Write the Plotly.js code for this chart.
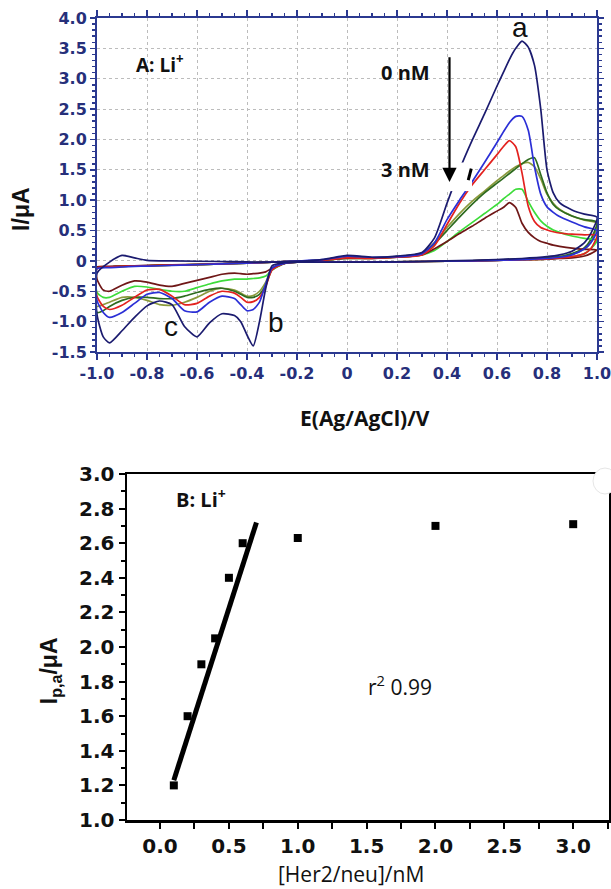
<!DOCTYPE html>
<html><head><meta charset="utf-8">
<script src="https://cdn.plot.ly/plotly-3.0.1.min.js"></script>
<style>html,body{margin:0;padding:0;background:#fff}#chart{width:611px;height:889px}</style>
</head><body><div id="chart"></div>
<script>
// ---------- Panel A: cyclic voltammograms ----------
// forward sweep potentials (V) and reverse sweep potentials (V)
const fwdE = [-1.0,-0.95,-0.9,-0.85,-0.8,-0.7,-0.5,-0.3,-0.1,0.0,0.1,0.2,0.3,0.35,0.4,0.45,0.5,0.55,0.6,0.625,0.65,0.675,0.7,0.725,0.75,0.775,0.8,0.825,0.85,0.9,0.95,1.0];
const revE = [0.975,0.95,0.9,0.85,0.8,0.7,0.5,0.3,0.1,-0.1,-0.2,-0.25,-0.3,-0.325,-0.35,-0.375,-0.4,-0.425,-0.45,-0.5,-0.55,-0.6,-0.65,-0.7,-0.75,-0.8,-0.85,-0.9,-0.95,-0.975,-1.0];

// currents (uA) per curve: forward and reverse branches
const navyFwd = [-0.2,-0.02,0.09,0.05,0.01,0.0,-0.01,-0.02,0.02,0.09,0.06,0.08,0.14,0.38,0.95,1.5,1.98,2.42,2.88,3.1,3.32,3.5,3.62,3.52,3.22,2.5,1.5,1.12,0.96,0.84,0.77,0.72];
const navyRev = [0.45,0.3,0.16,0.1,0.07,0.04,0.01,-0.01,-0.02,-0.02,-0.02,-0.03,-0.08,-0.45,-1.0,-1.4,-1.22,-1.0,-0.9,-0.87,-1.02,-1.25,-1.08,-0.72,-0.66,-0.74,-0.93,-1.15,-1.35,-1.25,-0.88];
const blueFwd = [-0.13,-0.11,-0.1,-0.09,-0.085,-0.075,-0.05,-0.02,0.02,0.08,0.06,0.07,0.12,0.3,0.68,1.0,1.3,1.62,1.95,2.12,2.28,2.38,2.38,2.15,1.55,1.1,0.89,0.8,0.73,0.64,0.56,0.5];
const blueRev = [0.3,0.2,0.1,0.06,0.04,0.02,0.0,-0.01,-0.02,-0.02,-0.02,-0.04,-0.12,-0.38,-0.68,-0.8,-0.82,-0.72,-0.62,-0.58,-0.68,-0.84,-0.82,-0.62,-0.52,-0.55,-0.7,-0.85,-0.93,-0.85,-0.65];
const redFwd = [-0.12,-0.1,-0.09,-0.085,-0.08,-0.07,-0.05,-0.02,0.01,0.05,0.04,0.06,0.1,0.25,0.6,0.95,1.25,1.5,1.75,1.88,1.98,1.88,1.45,0.9,0.65,0.55,0.51,0.48,0.46,0.44,0.43,0.42];
const redRev = [0.2,0.12,0.07,0.05,0.03,0.02,0.0,-0.01,-0.02,-0.02,-0.02,-0.04,-0.15,-0.42,-0.6,-0.67,-0.68,-0.6,-0.53,-0.5,-0.58,-0.7,-0.72,-0.58,-0.47,-0.48,-0.6,-0.73,-0.8,-0.75,-0.58];
const dgreenFwd = [-0.12,-0.1,-0.09,-0.085,-0.08,-0.07,-0.05,-0.02,0.01,0.05,0.05,0.07,0.12,0.28,0.5,0.72,0.93,1.12,1.28,1.36,1.44,1.52,1.6,1.67,1.7,1.42,1.12,0.93,0.84,0.74,0.68,0.64];
const dgreenRev = [0.35,0.22,0.12,0.07,0.05,0.03,0.0,-0.01,-0.02,-0.02,-0.02,-0.04,-0.15,-0.4,-0.55,-0.6,-0.6,-0.55,-0.5,-0.45,-0.47,-0.52,-0.58,-0.62,-0.62,-0.6,-0.6,-0.65,-0.75,-0.82,-0.85];
const oliveFwd = [-0.12,-0.1,-0.09,-0.085,-0.08,-0.07,-0.05,-0.02,0.01,0.05,0.05,0.07,0.13,0.3,0.55,0.78,0.98,1.15,1.32,1.4,1.48,1.55,1.6,1.62,1.55,1.35,1.1,0.95,0.85,0.74,0.67,0.62];
const oliveRev = [0.3,0.2,0.11,0.07,0.05,0.03,0.0,-0.01,-0.02,-0.02,-0.02,-0.04,-0.12,-0.35,-0.5,-0.57,-0.58,-0.53,-0.48,-0.45,-0.5,-0.6,-0.68,-0.73,-0.72,-0.65,-0.6,-0.6,-0.68,-0.72,-0.75];
const lgreenFwd = [-0.11,-0.1,-0.09,-0.085,-0.08,-0.07,-0.05,-0.02,0.01,0.04,0.04,0.06,0.1,0.17,0.32,0.48,0.63,0.78,0.93,1.02,1.1,1.18,1.18,0.98,0.8,0.66,0.57,0.51,0.47,0.41,0.37,0.34];
const lgreenRev = [0.2,0.12,0.07,0.05,0.03,0.02,0.0,-0.01,-0.02,-0.02,-0.02,-0.04,-0.15,-0.25,-0.28,-0.29,-0.3,-0.3,-0.3,-0.33,-0.38,-0.44,-0.5,-0.5,-0.47,-0.43,-0.42,-0.5,-0.6,-0.6,-0.52];
const maroonFwd = [-0.1,-0.09,-0.085,-0.08,-0.075,-0.065,-0.045,-0.02,0.01,0.04,0.04,0.06,0.1,0.2,0.32,0.45,0.57,0.7,0.82,0.88,0.96,0.88,0.62,0.47,0.38,0.32,0.29,0.26,0.24,0.21,0.19,0.18];
const maroonRev = [0.12,0.08,0.05,0.04,0.03,0.02,0.0,-0.01,-0.02,-0.02,-0.02,-0.04,-0.12,-0.18,-0.2,-0.21,-0.22,-0.21,-0.2,-0.22,-0.27,-0.32,-0.37,-0.42,-0.4,-0.35,-0.33,-0.4,-0.5,-0.48,-0.3];

const cvTickVals = [-1.0,-0.8,-0.6,-0.4,-0.2,0,0.2,0.4,0.6,0.8,1.0];
const cvTickText = ['-1.0','-0.8','-0.6','-0.4','-0.2','0','0.2','0.4','0.6','0.8','1.0'];
const iTickVals = [-1.5,-1.0,-0.5,0,0.5,1.0,1.5,2.0,2.5,3.0,3.5,4.0];
const iTickText = ['-1.5','-1.0','-0.5','0','0.5','1.0','1.5','2.0','2.5','3.0','3.5','4.0'];

// ---------- Panel B: calibration ----------
const concNM = [0.1,0.2,0.3,0.4,0.5,0.6,1.0,2.0,3.0];
const peakUA = [1.2,1.6,1.9,2.05,2.4,2.6,2.63,2.7,2.71];
const fitX = [0.1,0.7];
const fitY = [1.23,2.72];
const concTickVals = [0,0.5,1.0,1.5,2.0,2.5,3.0];
const concTickText = ['0.0','0.5','1.0','1.5','2.0','2.5','3.0'];
const ipTickVals = [1.0,1.2,1.4,1.6,1.8,2.0,2.2,2.4,2.6,2.8,3.0];
const ipTickText = ['1.0','1.2','1.4','1.6','1.8','2.0','2.2','2.4','2.6','2.8','3.0'];

// ---------- build ----------
const curves = [
  {f: oliveFwd, r: oliveRev, c: '#8a9a3c'},
  {f: dgreenFwd, r: dgreenRev, c: '#2e6b1f'},
  {f: lgreenFwd, r: lgreenRev, c: '#3ddc3a'},
  {f: maroonFwd, r: maroonRev, c: '#6f1717'},
  {f: redFwd, r: redRev, c: '#e3221f'},
  {f: blueFwd, r: blueRev, c: '#2b2fd6'},
  {f: navyFwd, r: navyRev, c: '#1b1b6f'}
];
const traces = curves.map(cv => ({
  type: 'scatter', mode: 'lines', xaxis: 'x', yaxis: 'y',
  x: fwdE.concat(revE, [fwdE[0]]),
  y: cv.f.concat(cv.r, [cv.f[0]]),
  line: {color: cv.c, width: 1.7, shape: 'spline', smoothing: 0.6},
  hoverinfo: 'skip'
}));
traces.push({
  type: 'scatter', mode: 'lines', xaxis: 'x2', yaxis: 'y2',
  x: fitX, y: fitY, line: {color: '#000', width: 5}
});
traces.push({
  type: 'scatter', mode: 'markers', xaxis: 'x2', yaxis: 'y2',
  x: concNM, y: peakUA, marker: {symbol: 'square', size: 8, color: '#000'}
});

const navyAxis = '#2b3990';
const navyText = '#262f7a';
const topTick = {family: 'DejaVu Sans', size: 16, color: navyText, weight: 'bold'};
const botTick = {family: 'DejaVu Sans', size: 20, color: '#111', weight: 'bold'};

function note(o) {
  return Object.assign({showarrow: false, xanchor: 'center', yanchor: 'middle'}, o);
}

const layout = {
  width: 611, height: 889,
  margin: {l: 0, r: 0, t: 0, b: 0},
  paper_bgcolor: '#fff', plot_bgcolor: '#fff',
  showlegend: false,
  xaxis: {
    domain: [97/611, 597/611], anchor: 'y', range: [-1, 1],
    tickmode: 'array', tickvals: cvTickVals, ticktext: cvTickText,
    ticks: 'outside', ticklen: 6, tickwidth: 1.5, tickcolor: navyAxis,
    ticklabeloverflow: 'allow',
    showline: true, linecolor: navyAxis, linewidth: 2, mirror: 'allticks',
    showgrid: true, gridcolor: '#bcbcbc', griddash: 'dot', gridwidth: 1,
    zeroline: false, tickfont: topTick,
    minor: {tickmode: 'linear', tick0: -1, dtick: 0.05, ticks: 'outside', ticklen: 3, tickcolor: navyAxis, showgrid: false}
  },
  yaxis: {
    domain: [1 - 352/889, 1 - 18/889], anchor: 'x', range: [-1.5, 4.0],
    tickmode: 'array', tickvals: iTickVals, ticktext: iTickText,
    ticks: 'outside', ticklen: 5, tickwidth: 1.5, tickcolor: navyAxis,
    ticklabeloverflow: 'allow',
    showline: true, linecolor: navyAxis, linewidth: 2, mirror: 'allticks',
    showgrid: true, gridcolor: '#bcbcbc', griddash: 'dot', gridwidth: 1,
    zeroline: false, tickfont: topTick,
    minor: {tickmode: 'linear', tick0: -1.5, dtick: 0.1, ticks: 'outside', ticklen: 3, tickcolor: navyAxis, showgrid: false}
  },
  xaxis2: {
    domain: [127/611, 609/611], anchor: 'y2', range: [-0.24, 3.26],
    tickmode: 'array', tickvals: concTickVals, ticktext: concTickText,
    ticks: 'outside', ticklen: 6, tickwidth: 2, tickcolor: '#000',
    showline: true, linecolor: '#000', linewidth: 2.5, mirror: true,
    showgrid: false, zeroline: false, tickfont: botTick,
    minor: {tickmode: 'linear', tick0: 0, dtick: 0.25, ticks: 'outside', ticklen: 6, tickcolor: '#000', showgrid: false}
  },
  yaxis2: {
    domain: [1 - 820/889, 1 - 474/889], anchor: 'x2', range: [1.0, 3.0],
    tickmode: 'array', tickvals: ipTickVals, ticktext: ipTickText,
    ticks: 'outside', ticklen: 6, tickwidth: 2, tickcolor: '#000',
    showline: true, linecolor: '#000', linewidth: 2.5, mirror: true,
    showgrid: false, zeroline: false, tickfont: botTick,
    minor: {tickmode: 'linear', tick0: 1.0, dtick: 0.1, ticks: 'outside', ticklen: 4, tickcolor: '#000', showgrid: false}
  },
  shapes: [
    {type: 'rect', xref: 'x', yref: 'y', x0: 0.39, x1: 0.50, y0: 1.15, y1: 1.62, fillcolor: '#fff', line: {width: 0}, layer: 'above'},
    {type: 'line', xref: 'x', yref: 'y', x0: 0.485, x1: 0.497, y0: 1.33, y1: 1.52, line: {color: '#000', width: 3}, layer: 'above'},
    {type: 'circle', xref: 'paper', yref: 'paper', x0: 593/611, x1: 617/611, y0: 1 - 494/889, y1: 1 - 468/889, fillcolor: '#fff', line: {color: '#e6e6e6', width: 1}, layer: 'above'}
  ],
  annotations: [
    {xref: 'x', yref: 'y', x: 0.41, y: 1.3, ax: 0.41, ay: 3.38, axref: 'x', ayref: 'y', text: '', showarrow: true, arrowhead: 2, arrowsize: 1.3, arrowwidth: 2.2, arrowcolor: '#000'},
    note({xref: 'x', yref: 'y', x: -0.75, y: 3.25, text: '<b>A: Li<sup>+</sup></b>', font: {family: 'Open Sans', size: 19, color: '#111'}}),
    note({xref: 'x', yref: 'y', x: 0.235, y: 3.1, text: '<b>0 nM</b>', font: {family: 'Open Sans', size: 20, color: '#111'}}),
    note({xref: 'x', yref: 'y', x: 0.235, y: 1.5, text: '<b>3 nM</b>', font: {family: 'Open Sans', size: 20, color: '#111'}}),
    note({xref: 'x', yref: 'y', x: 0.69, y: 3.85, text: 'a', font: {family: 'Liberation Sans', size: 28, color: '#111'}}),
    note({xref: 'x', yref: 'y', x: -0.285, y: -1.02, text: 'b', font: {family: 'Liberation Sans', size: 28, color: '#111'}}),
    note({xref: 'x', yref: 'y', x: -0.705, y: -1.08, text: 'c', font: {family: 'Liberation Sans', size: 28, color: '#111'}}),
    note({xref: 'paper', yref: 'y', x: 21/611, y: 0.84, text: '<b>I/μA</b>', textangle: -90, font: {family: 'Liberation Sans', size: 23, color: '#111'}}),
    note({xref: 'x', yref: 'paper', x: 0.07, y: 1 - 418/889, text: '<b>E(Ag/AgCl)/V</b>', font: {family: 'Open Sans', size: 21, color: '#111'}}),
    note({xref: 'x2', yref: 'y2', x: 0.1, y: 2.86, xanchor: 'left', text: '<b>B: Li<sup>+</sup></b>', font: {family: 'Open Sans', size: 20, color: '#111'}}),
    note({xref: 'x2', yref: 'y2', x: 1.74, y: 1.78, text: 'r<sup>2</sup> 0.99', font: {family: 'Open Sans', size: 21, color: '#111'}}),
    note({xref: 'paper', yref: 'y2', x: 50/611, y: 1.86, text: '<b>I<sub>p,a</sub>/μA</b>', textangle: -90, font: {family: 'Liberation Sans', size: 23, color: '#111'}}),
    note({xref: 'x2', yref: 'paper', x: 1.39, y: 1 - 874/889, text: '[Her2/neu]/nM', font: {family: 'Open Sans', size: 21, color: '#111'}})
  ]
};

Plotly.newPlot('chart', traces, layout, {staticPlot: true, displayModeBar: false});
</script></body></html>
